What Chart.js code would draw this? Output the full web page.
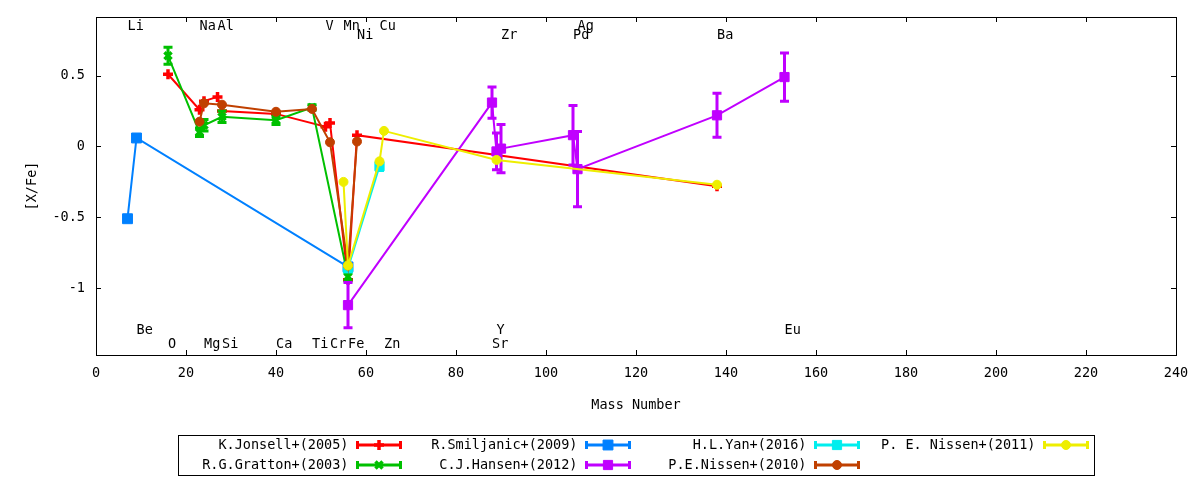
<!DOCTYPE html>
<html>
<head>
<meta charset="utf-8">
<title>[X/Fe] vs Mass Number</title>
<script src="https://cdn.jsdelivr.net/npm/chart.js@4/dist/chart.umd.min.js"></script>
<style>
  html, body { margin: 0; padding: 0; background: #fff; }
  #wrap { width: 1200px; height: 480px; }
</style>
</head>
<body>
<div id="wrap"><canvas id="chart" width="1200" height="480"></canvas></div>
<script>
// Axis ticks
const xTickValues = [0, 20, 40, 60, 80, 100, 120, 140, 160, 180, 200, 220, 240];
const yTickValues = [-1, -0.5, 0, 0.5];
const yTickLabels = ["-1", "-0.5", "0", "0.5"];

// K.Jonsell+(2005)
const jonsellMass = [16, 23, 24, 27, 28, 40, 51, 52, 56, 58, 138];
const jonsellVal  = [0.51, 0.26, 0.32, 0.35, 0.25, 0.23, 0.14, 0.165, -0.94, 0.08, -0.28];

// R.G.Gratton+(2003)
const grattonMass = [16, 23, 24, 28, 40, 48, 56];
const grattonVal  = [0.64, 0.10, 0.15, 0.21, 0.185, 0.275, -0.92];
const grattonErr  = [0.06, 0.03, 0.04, 0.04, 0.03, 0.02, 0.03];

// R.Smiljanic+(2009)
const smiljanicMass = [7, 9, 56];
const smiljanicVal  = [-0.51, 0.06, -0.85];

// C.J.Hansen+(2012)
const hansenMass = [56, 88, 89, 90, 106, 107, 138, 153];
const hansenVal  = [-1.12, 0.31, -0.035, -0.015, 0.08, -0.16, 0.22, 0.49];
const hansenErr  = [0.16, 0.11, 0.13, 0.17, 0.21, 0.265, 0.155, 0.17];

// H.L.Yan+(2016)
const yanMass = [56, 63];
const yanVal  = [-0.86, -0.14];
const yanErr  = [0.02, 0.03];

// P.E.Nissen+(2010)
const nissen10Mass = [23, 24, 28, 40, 48, 52, 56, 58];
const nissen10Val  = [0.175, 0.305, 0.295, 0.245, 0.265, 0.03, -0.84, 0.035];

// P. E. Nissen+(2011)
const nissen11Mass = [55, 56, 63, 64, 89, 138];
const nissen11Val  = [-0.25, -0.84, -0.105, 0.11, -0.095, -0.27];

// Element labels (left aligned at their mass number)
const elemNames  = ["Li", "Be", "O", "Na", "Mg", "Al", "Si", "Ca", "Ti", "V", "Cr", "Mn", "Fe", "Ni", "Cu", "Zn", "Sr", "Y", "Zr", "Pd", "Ag", "Ba", "Eu"];
const elemMass   = [7, 9, 16, 23, 24, 27, 28, 40, 48, 51, 52, 55, 56, 58, 63, 64, 88, 89, 90, 106, 107, 138, 153];
const elemLabelY = [0.85, -1.3, -1.4, 0.85, -1.4, 0.85, -1.4, -1.4, -1.4, 0.85, -1.4, 0.85, -1.4, 0.78, 0.85, -1.4, -1.4, -1.3, 0.78, 0.78, 0.85, 0.78, -1.3];

const FONT = "DejaVu Sans Mono";
const FONT_SIZE = 13.5;

function points(mass, vals) {
  return mass.map((m, i) => ({ x: m, y: vals[i] }));
}

function series(label, mass, vals, errs, color, style, radius, bw, order) {
  return {
    label: label,
    data: points(mass, vals),
    errors: errs,
    borderColor: color,
    backgroundColor: color,
    pointBackgroundColor: color,
    pointBorderColor: color,
    pointStyle: style,
    pointRadius: radius,
    pointBorderWidth: bw,
    borderWidth: 2,
    showLine: true,
    fill: false,
    tension: 0,
    order: order
  };
}

const datasets = [
  series("K.Jonsell+(2005)", jonsellMass, jonsellVal, null, "#ff0000", "cross", 5, 3.5, 7),
  series("R.G.Gratton+(2003)", grattonMass, grattonVal, grattonErr, "#00c000", "crossRot", 5, 3.5, 6),
  series("R.Smiljanic+(2009)", smiljanicMass, smiljanicVal, null, "#0080ff", "rect", 7, 1, 5),
  series("C.J.Hansen+(2012)", hansenMass, hansenVal, hansenErr, "#c000ff", "rect", 6.5, 1, 4),
  series("H.L.Yan+(2016)", yanMass, yanVal, yanErr, "#00eeee", "rect", 6.5, 1, 3),
  series("P.E.Nissen+(2010)", nissen10Mass, nissen10Val, null, "#c04000", "circle", 4.5, 1, 2),
  series("P. E. Nissen+(2011)", nissen11Mass, nissen11Val, null, "#eeee00", "circle", 4.5, 1, 1)
];

// Vertical error bars with caps, drawn just before each dataset
const errorBars = {
  id: "errorBars",
  beforeDatasetDraw(chart, args) {
    const ds = chart.data.datasets[args.index];
    if (!ds.errors) return;
    const ctx = chart.ctx;
    const xs = chart.scales.x, ys = chart.scales.y;
    ctx.save();
    ctx.strokeStyle = ds.borderColor;
    ctx.lineWidth = 3;
    ds.data.forEach((p, i) => {
      const e = ds.errors[i];
      if (!e) return;
      const px = xs.getPixelForValue(p.x);
      const top = ys.getPixelForValue(p.y + e);
      const bot = ys.getPixelForValue(p.y - e);
      ctx.beginPath();
      ctx.moveTo(px, top); ctx.lineTo(px, bot);
      ctx.moveTo(px - 4.5, top); ctx.lineTo(px + 4.5, top);
      ctx.moveTo(px - 4.5, bot); ctx.lineTo(px + 4.5, bot);
      ctx.stroke();
    });
    ctx.restore();
  }
};

// Box border with inward ticks on all four sides
const frame = {
  id: "frame",
  beforeDatasetsDraw(chart) {
    const { ctx, chartArea: a, scales: { x, y } } = chart;
    ctx.save();
    ctx.strokeStyle = "#000";
    ctx.lineWidth = 1;
    ctx.strokeRect(a.left + 0.5, a.top + 0.5, a.right - a.left, a.bottom - a.top);
    ctx.beginPath();
    xTickValues.forEach(v => {
      const px = Math.round(x.getPixelForValue(v)) + 0.5;
      ctx.moveTo(px, a.bottom); ctx.lineTo(px, a.bottom - 5);
      ctx.moveTo(px, a.top); ctx.lineTo(px, a.top + 5);
    });
    yTickValues.forEach(v => {
      const py = Math.round(y.getPixelForValue(v)) + 0.5;
      ctx.moveTo(a.left, py); ctx.lineTo(a.left + 5, py);
      ctx.moveTo(a.right, py); ctx.lineTo(a.right - 5, py);
    });
    ctx.stroke();
    ctx.restore();
  }
};

// Element name labels placed in data coordinates
const elemLabels = {
  id: "elemLabels",
  afterDatasetsDraw(chart) {
    const { ctx, scales: { x, y } } = chart;
    ctx.save();
    ctx.font = FONT_SIZE + "px '" + FONT + "'";
    ctx.fillStyle = "#000";
    ctx.textAlign = "left";
    ctx.textBaseline = "middle";
    elemNames.forEach((name, i) => {
      ctx.fillText(name, x.getPixelForValue(elemMass[i]), y.getPixelForValue(elemLabelY[i]));
    });
    ctx.restore();
  }
};

// gnuplot style key below the plot, 4 columns x 2 rows
const keyBox = {
  id: "keyBox",
  afterDraw(chart) {
    const { ctx, chartArea: a } = chart;
    const boxW = 916, boxH = 40, colW = 229;
    const left = Math.round((a.left + a.right) / 2 - boxW / 2) + 0.5;
    const top = 435.5;
    ctx.save();
    ctx.strokeStyle = "#000";
    ctx.lineWidth = 1;
    ctx.strokeRect(left, top, boxW, boxH);
    ctx.font = FONT_SIZE + "px '" + FONT + "'";
    ctx.textBaseline = "middle";
    ctx.textAlign = "right";
    chart.data.datasets.forEach((ds, i) => {
      const col = Math.floor(i / 2), row = i % 2;
      const cx = left + col * colW;
      const cy = Math.round(top + 9 + row * 20);
      ctx.fillStyle = "#000";
      ctx.fillText(ds.label, cx + 170, cy);
      const s0 = cx + 179, s1 = cx + 222;
      ctx.strokeStyle = ds.borderColor;
      ctx.lineWidth = 3;
      ctx.beginPath();
      ctx.moveTo(s0, cy); ctx.lineTo(s1, cy);
      ctx.moveTo(s0, cy - 4); ctx.lineTo(s0, cy + 4);
      ctx.moveTo(s1, cy - 4); ctx.lineTo(s1, cy + 4);
      ctx.stroke();
      ctx.fillStyle = ds.borderColor;
      ctx.lineWidth = ds.pointBorderWidth;
      Chart.helpers.drawPoint(ctx, {
        pointStyle: ds.pointStyle,
        radius: ds.pointRadius,
        rotation: 0,
        borderWidth: ds.pointBorderWidth
      }, (s0 + s1) / 2, cy);
    });
    ctx.restore();
  }
};

Chart.defaults.font.family = FONT;
Chart.defaults.font.size = FONT_SIZE;
Chart.defaults.color = "#000";

const ctx = document.getElementById("chart").getContext("2d");
new Chart(ctx, {
  type: "scatter",
  data: { datasets: datasets },
  plugins: [errorBars, frame, elemLabels, keyBox],
  options: {
    responsive: false,
    animation: false,
    layout: { padding: { left: 0, right: 24, top: 17, bottom: 0 } },
    plugins: {
      legend: { display: false },
      tooltip: { enabled: false }
    },
    scales: {
      x: {
        type: "linear",
        min: 0,
        max: 240,
        grid: { display: false, drawTicks: false },
        border: { display: false },
        afterBuildTicks: scale => { scale.ticks = xTickValues.map(v => ({ value: v })); },
        afterFit: scale => { scale.height = 125; scale.paddingLeft = 0; scale.paddingRight = 0; },
        ticks: { padding: 10, maxRotation: 0, autoSkip: false, callback: v => String(v) },
        title: { display: true, text: "Mass Number", padding: { top: 0, bottom: 66 } }
      },
      y: {
        type: "linear",
        min: -1.472,
        max: 0.914,
        grid: { display: false, drawTicks: false },
        border: { display: false },
        afterBuildTicks: scale => { scale.ticks = yTickValues.map(v => ({ value: v })); },
        afterFit: scale => { scale.width = 96; scale.paddingTop = 0; scale.paddingBottom = 0; },
        ticks: { padding: 11, autoSkip: false, callback: (v, i) => yTickLabels[i] },
        title: { display: true, text: "[X/Fe]", padding: { top: 24, bottom: 0 } }
      }
    }
  }
});
</script>
</body>
</html>
